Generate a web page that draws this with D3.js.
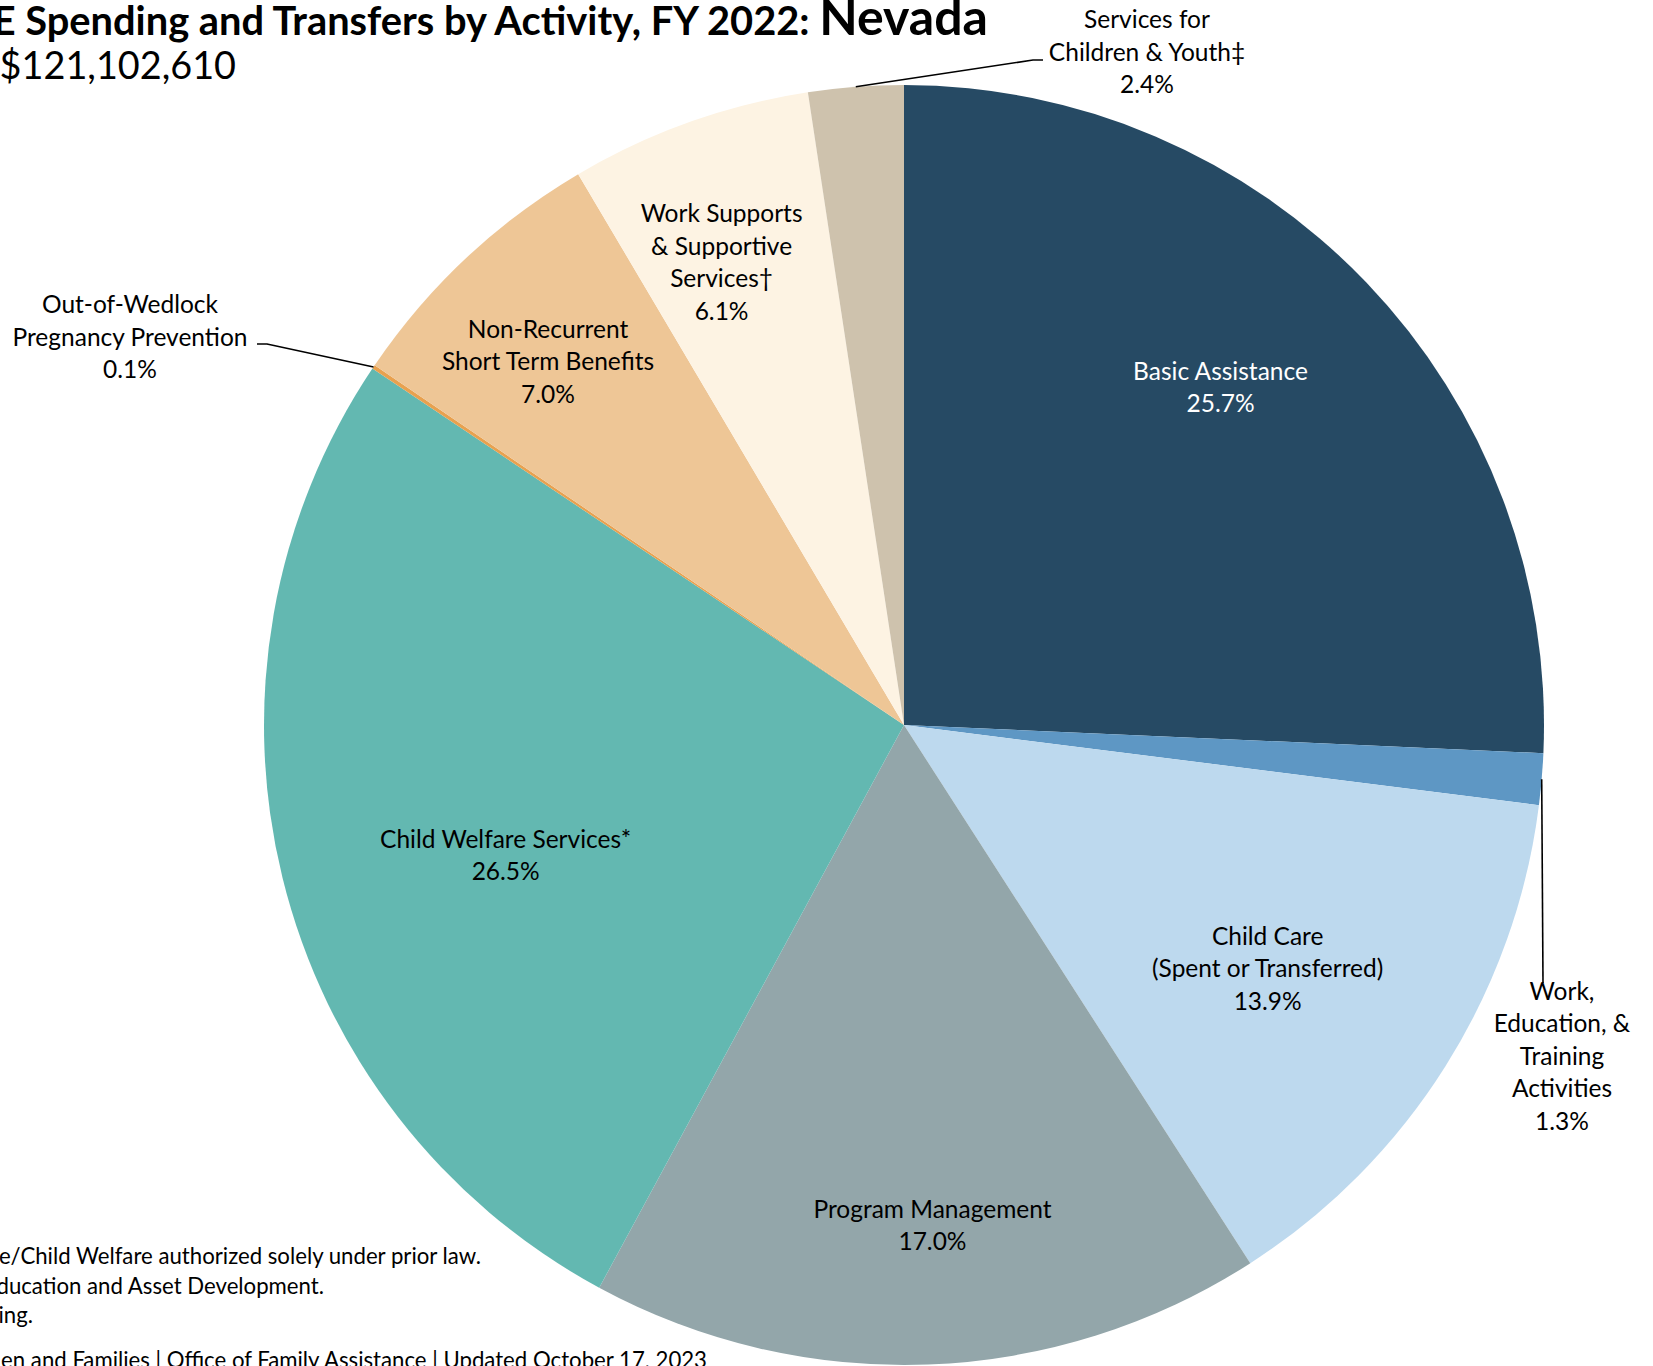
<html>
<head>
<style type="text/css">
  body { margin: 0; background: #fff; }
  text { font-family: Lato, "Liberation Sans", sans-serif; fill: #000; }
  .title { font-weight: bold; font-size: 39.8px; }
  .title .state { font-size: 50px; }
  .subtitle { font-size: 37.8px; }
  .note { font-size: 22.2px; }
  .lbl { font-size: 24.5px; }
  .leader { fill: none; stroke: #000; stroke-width: 1.6; }
</style>
<script src="https://d3js.org/d3.v7.min.js"></script>
</head>
<body>
<script type="text/javascript">

var categories = ["Basic Assistance", "Work, Education, & Training Activities",
  "Child Care (Spent or Transferred)", "Program Management", "Child Welfare Services*",
  "Out-of-Wedlock Pregnancy Prevention", "Non-Recurrent Short Term Benefits",
  "Work Supports & Supportive Services\u2020", "Services for Children & Youth\u2021"];
var shares = [25.7, 1.3, 13.9, 17.0, 26.5, 0.1, 7.0, 6.1, 2.4];
var labelLines = [["Basic Assistance"], ["Work,", "Education, &", "Training", "Activities"],
  ["Child Care", "(Spent or Transferred)"], ["Program Management"], ["Child Welfare Services*"],
  ["Out-of-Wedlock", "Pregnancy Prevention"], ["Non-Recurrent", "Short Term Benefits"],
  ["Work Supports", "& Supportive", "Services\u2020"], ["Services for", "Children & Youth\u2021"]];
var titleText = "E Spending and Transfers by Activity, FY 2022: ";
var stateName = "Nevada";
var totalText = "$121,102,610";
var notes = ["e/Child Welfare authorized solely under prior law.", "ducation and Asset Development.",
  "ing.", "en and Families | Office of Family Assistance | Updated October 17, 2023"];

var colors = ["#264a64", "#5e97c4", "#bdd9ee", "#93a6aa", "#63b8b1",
  "#e8a14f", "#eec696", "#fdf3e3", "#cec2ad"];

// layout
var width = 1653, height = 1366;
var cx = 904, cy = 725, R = 640;
var lineH = 32.5;
// inside labels: radius fraction and angle nudge (deg); outside labels: fixed spot + leader bend
var inside = {0: [0.723, -3.1], 2: [0.684, 1.6], 3: [0.783, -1.1], 4: [0.655, -4.3],
  6: [0.795, -1.2], 7: [0.777, -1.9]};
var outside = {
  1: {at: [1562, 1056], bend: [[1543, 983]]},
  5: {at: [130, 337], bend: [[267, 344], [257, 344]]},
  8: {at: [1147, 52], bend: [[1033, 60], [1043, 60]]}
};

var svg = d3.select("body").append("svg")
  .attr("width", width).attr("height", height);

var g = svg.append("g").attr("transform", "translate(" + cx + "," + cy + ")");

var pie = d3.pie().sort(null).value(function(d) { return d; });
var arcs = pie(shares);
var arc = d3.arc().innerRadius(0).outerRadius(R);
var rim = d3.arc().innerRadius(R).outerRadius(R);

g.selectAll("path.slice")
  .data(arcs)
  .enter()
  .append("path")
    .attr("class", "slice")
    .attr("d", arc)
    .attr("fill", function(d, i) { return colors[i]; });

var pct = function(v) { return d3.format(".1f")(v) + "%"; };

function labelBlock(x, y, lines, fill) {
  var t = svg.append("text")
    .attr("class", "lbl")
    .attr("text-anchor", "middle")
    .style("fill", fill);
  var top = y - (lines.length - 1) * lineH / 2;
  lines.forEach(function(s, k) {
    t.append("tspan").attr("x", x).attr("y", top + k * lineH).attr("dy", "0.35em").text(s);
  });
}

arcs.forEach(function(d, i) {
  var lines = labelLines[i].concat([pct(shares[i])]);
  if (inside[i]) {
    var a = (d.startAngle + d.endAngle) / 2 + inside[i][1] * Math.PI / 180;
    var r = inside[i][0] * R;
    labelBlock(cx + r * Math.sin(a), cy - r * Math.cos(a), lines, i === 0 ? "#fff" : "#000");
  } else {
    var o = outside[i];
    var c = rim.centroid(d);
    var pts = [[cx + c[0], cy + c[1]]].concat(o.bend);
    svg.append("path").attr("class", "leader").attr("d", d3.line()(pts));
    labelBlock(o.at[0], o.at[1], lines, "#000");
  }
});

// title block (left part cut off at page edge)
var title = svg.append("text").attr("class", "title")
  .attr("x", 988).attr("y", 35).attr("text-anchor", "end");
title.append("tspan").text(titleText);
title.append("tspan").attr("class", "state").text(stateName);

svg.append("text").attr("class", "subtitle")
  .attr("x", 236).attr("y", 79).attr("text-anchor", "end").text(totalText);

var noteEnds = [481, 324, 33, 707];
var noteBase = [1264, 1294, 1323, 1368];
notes.forEach(function(s, k) {
  svg.append("text").attr("class", "note")
    .attr("x", noteEnds[k]).attr("y", noteBase[k]).attr("text-anchor", "end").text(s);
});

</script>
</body>
</html>
